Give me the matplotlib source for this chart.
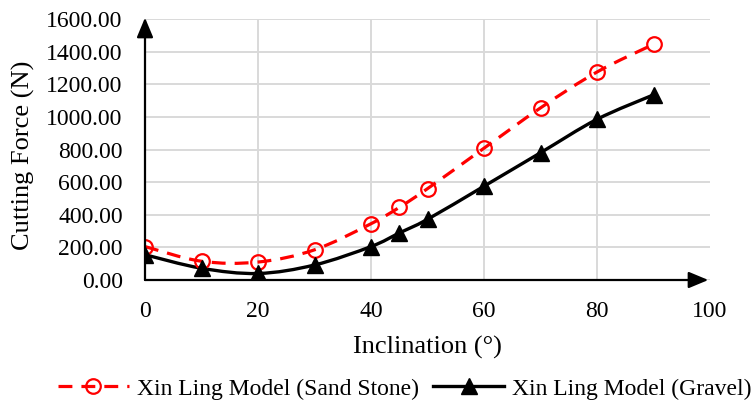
import numpy as np
import matplotlib
matplotlib.use('Agg')
import matplotlib.pyplot as plt
from matplotlib.path import Path
from matplotlib.patches import PathPatch
from matplotlib.lines import Line2D

# ---- data ----
inclination = [0, 10, 20, 30, 40, 45, 50, 60, 70, 80, 90]
sand_stone = [205, 115, 110, 185, 345, 445, 560, 808, 1055, 1275, 1445]
gravel = [155, 72, 40, 92, 205, 288, 372, 575, 780, 985, 1135]
x_ticks = [0, 20, 40, 60, 80, 100]
y_ticks = [0, 200, 400, 600, 800, 1000, 1200, 1400, 1600]
labels = ['Xin Ling Model (Sand Stone)', 'Xin Ling Model (Gravel)']

plt.rcParams['font.family'] = ['Liberation Serif', 'DejaVu Serif']
plt.rcParams['lines.scale_dashes'] = False

W, H = 755, 407
fig = plt.figure(figsize=(W / 100, H / 100), dpi=100)
L, R, T, B = 145, 710, 19, 280
ax = fig.add_axes([L / W, 1 - B / H, (R - L) / W, (B - T) / H])
ax.set_xlim(x_ticks[0], x_ticks[-1])
ax.set_ylim(y_ticks[0], y_ticks[-1])


def smooth_path(xs, ys, t=1 / 6):
    pts = np.column_stack([xs, ys]).astype(float)
    n = len(pts)
    verts = [pts[0]]
    codes = [Path.MOVETO]
    for i in range(n - 1):
        p0 = pts[i - 1] if i > 0 else pts[i]
        p1 = pts[i]
        p2 = pts[i + 1]
        p3 = pts[i + 2] if i + 2 < n else pts[i + 1]
        c1 = p1 + (p2 - p0) * t
        c2 = p2 - (p3 - p1) * t
        verts += [c1, c2, p2]
        codes += [Path.CURVE4] * 3
    return Path(verts, codes)


red = '#ff0000'
dash = (0, (10, 6.5))

# grid
ax.set_yticks(y_ticks)
ax.set_xticks(x_ticks)
ax.grid(axis='y', color='#d9d9d9', lw=1.4, zorder=0)
for xv in x_ticks[1:-1]:
    ax.axvline(xv, color='#d9d9d9', lw=1.4, zorder=0)

# curves
ax.add_patch(PathPatch(smooth_path(inclination, sand_stone), fill=False,
                       edgecolor=red, lw=2.3, linestyle=dash, zorder=3,
                       capstyle='butt'))
ax.add_patch(PathPatch(smooth_path(inclination, gravel), fill=False,
                       edgecolor='black', lw=2.4, zorder=3))
ax.plot(inclination, sand_stone, ls='none', marker='o', ms=10.5, mfc='none',
        mec=red, mew=1.6, zorder=4)
ax.plot(inclination, gravel, ls='none', marker='^', ms=11, color='black',
        zorder=4)

# axes with arrows
for s in ax.spines.values():
    s.set_visible(False)
arrow = dict(arrowstyle='-|>,head_length=0.6,head_width=0.25', lw=1.6,
             color='black', shrinkA=0, shrinkB=0, mutation_scale=20)
ax.annotate('', xy=(0, 1.005), xytext=(0, 0), xycoords='axes fraction',
            textcoords='axes fraction', arrowprops=arrow, annotation_clip=False,
            zorder=5)
ax.annotate('', xy=(0.997, 0), xytext=(0, 0), xycoords='axes fraction',
            textcoords='axes fraction', arrowprops=arrow, annotation_clip=False,
            zorder=5)

ax.set_yticklabels([f'{v:.2f}' for v in y_ticks])
ax.set_xticklabels([str(v) for v in x_ticks])
ax.tick_params(axis='both', length=0, labelsize=17)
ax.tick_params(axis='y', pad=16)
ax.tick_params(axis='x', pad=15)

ax.set_ylabel('Cutting Force (N)', fontsize=19)
ax.yaxis.set_label_coords((35 - L) / (R - L), (B - 155) / (B - T))
ax.set_xlabel('Inclination (°)', fontsize=19)
ax.xaxis.set_label_coords((427 - L) / (R - L), -(336 - B) / (B - T))

handles = [
    Line2D([], [], color=red, lw=2.3, ls=dash, marker='o', ms=10.5, mfc='none',
           mec=red, mew=1.6),
    Line2D([], [], color='black', lw=2.4, marker='^', ms=11),
]
fig.legend(handles, labels, loc='center', bbox_to_anchor=(405 / W, 1 - 389 / H),
           ncol=2, frameon=False, fontsize=17, handlelength=3,
           handletextpad=0.35, columnspacing=0.6)

fig.savefig('out.png', dpi=100)
